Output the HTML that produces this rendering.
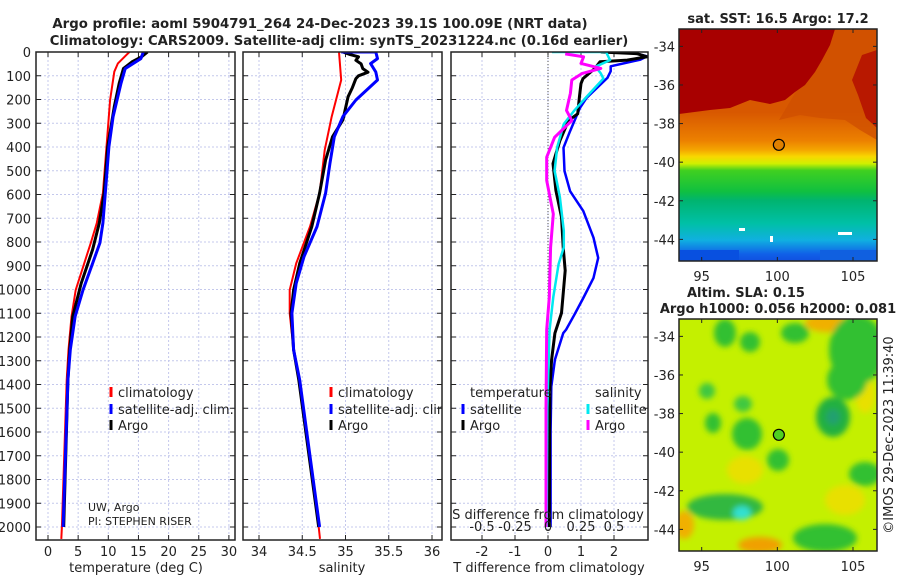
<!DOCTYPE html>
<html><head><meta charset="utf-8"><style>
body{margin:0;background:#fff;}
svg{display:block;font-family:"DejaVu Sans","Liberation Sans",sans-serif;}
</style></head><body>
<svg id="chart" width="900" height="580" viewBox="0 0 900 580">
<defs>
<clipPath id="c1"><rect x="36" y="52" width="199" height="488"/></clipPath>
<clipPath id="c2"><rect x="243" y="52" width="199" height="488"/></clipPath>
<clipPath id="c3"><rect x="451" y="52" width="197" height="488"/></clipPath>
<clipPath id="cm1"><rect x="679" y="29" width="198" height="232"/></clipPath>
<clipPath id="cm2"><rect x="679" y="319" width="198" height="232"/></clipPath>
<linearGradient id="sstg" x1="0" y1="29" x2="0" y2="261" gradientUnits="userSpaceOnUse">
<stop offset="0.36" stop-color="#d85800"/><stop offset="0.48" stop-color="#ec8000"/>
<stop offset="0.52" stop-color="#f4a400"/><stop offset="0.55" stop-color="#f8d800"/>
<stop offset="0.58" stop-color="#d0f000"/><stop offset="0.61" stop-color="#40d020"/>
<stop offset="0.70" stop-color="#10c040"/><stop offset="0.74" stop-color="#00b470"/>
<stop offset="0.84" stop-color="#00c0a8"/><stop offset="0.91" stop-color="#10b0e0"/>
<stop offset="0.97" stop-color="#1060e8"/><stop offset="1" stop-color="#1050e0"/>
</linearGradient>
<filter id="blur" x="-20%" y="-20%" width="140%" height="140%"><feGaussianBlur stdDeviation="3"/></filter>
</defs>
<g id="layer"></g>
</svg>
<script>
// Panel 1: temperature
const climTDepth=[0,48,83,202,399,594,720,804,890,1002,1114,1254,1381,2000,2050];
const climT=[13.5,11.6,11.0,10.3,9.7,9.1,8.1,7.1,6.0,4.6,3.9,3.4,3.1,2.3,2.2];
const argoTDepth=[0,20,42,70,132,230,399,594,720,832,974,1114,1254,1381,2000];
const argoT=[16.5,15.5,13.9,12.5,11.8,11.0,9.9,9.3,8.5,7.4,5.5,4.1,3.6,3.3,2.6];
const satTDepth=[0,28,70,132,272,399,594,720,804,890,1002,1114,1254,1381,2000];
const satT=[15.8,15.4,12.8,12.1,10.8,10.1,9.5,9.1,8.6,7.4,5.8,4.5,3.7,3.3,2.5];
// Panel 2: salinity
const climSDepth=[0,118,272,413,594,735,890,1002,1100,1254,1381,2000,2050];
const climS=[34.925,34.95,34.84,34.76,34.70,34.59,34.43,34.355,34.355,34.40,34.47,34.69,34.705];
const argoSDepth=[0,10,20,35,50,70,85,100,112,150,188,286,357,455,594,735,890,1002,1100,1254,1381,2000];
const argoS=[34.97,35.05,35.15,35.12,35.18,35.20,35.26,35.15,35.12,35.08,35.03,34.97,34.85,34.77,34.70,34.61,34.47,34.40,34.37,34.40,34.46,34.69];
const satSDepth=[0,0,28,49,84,118,202,272,357,470,594,735,862,974,1100,1254,1381,2000];
const satS=[34.95,35.35,35.37,35.29,35.35,35.37,35.12,34.97,34.87,34.82,34.77,34.67,34.52,34.43,34.38,34.40,34.47,34.70];
// Panel 3: differences
const argoTdDepth=[0,7,20,34,41,69,112,133,190,260,289,373,470,583,695,822,920,1032,1099,1184,1296,1409,1600,2000];
const argoTd=[1.6,2.7,3.0,2.4,1.58,1.42,1.06,1.0,0.95,0.9,0.62,0.36,0.15,0.24,0.41,0.46,0.52,0.45,0.41,0.21,0.11,0.06,0.05,0.04];
const satTdDepth=[0,18,32,60,81,109,193,235,333,403,501,586,670,782,867,951,1036,1106,1169,1184,1296,1409,1600,2000];
const satTd=[2.5,3.0,2.8,1.9,1.9,1.8,1.17,0.97,0.67,0.47,0.5,0.67,1.07,1.38,1.52,1.38,1.07,0.8,0.55,0.46,0.21,0.1,0.08,0.08];
const satSdDepth=[0,0,34,62,90,112,190,246,303,401,500,612,753,822,893,1032,1169,1500,2000];
const satSd=[0.03,0.44,0.47,0.36,0.40,0.42,0.29,0.20,0.12,0.07,0.05,0.09,0.12,0.12,0.08,0.04,0.012,-0.005,-0.01];
const argoSdDepth=[8,20,48,69,90,118,174,246,289,359,443,541,682,822,1032,1169,1500,2000];
const argoSd=[0.13,0.27,0.25,0.40,0.26,0.18,0.17,0.14,0.18,0.05,-0.01,-0.01,0.04,0.02,0.01,-0.01,-0.015,-0.015];
// Ticks
const depthTicks=[0,100,200,300,400,500,600,700,800,900,1000,1100,1200,1300,1400,1500,1600,1700,1800,1900,2000];
const tempTicks=[0,5,10,15,20,25,30];
const salTicks=[34,34.5,35,35.5,36];
const salTickLabels=["34","34.5","35","35.5","36"];
const tdTicks=[-2,-1,0,1,2];
const sdTicks=[-0.5,-0.25,0,0.25,0.5];
const sdTickLabels=["-0.5","-0.25","0","0.25","0.5"];
const latTicks=[-34,-36,-38,-40,-42,-44];
const lonTicks=[95,100,105];
const argoLon=[100.1], argoLat=[-39.1];

const NS="http://www.w3.org/2000/svg";
const layer=document.getElementById('layer');
function mk(tag,attrs,parent,text){const e=document.createElementNS(NS,tag);for(const k in attrs)e.setAttribute(k,attrs[k]);if(text!==undefined)e.textContent=text;(parent||layer).appendChild(e);return e;}

const yD=d=>52+d*0.2375;
const p1x=t=>48+t*6.03;
const p2x=s=>259+(s-34)*86.5;
const p3x=t=>548+t*33;
const p3s=s=>548+s*132;
const mapX=lon=>679+(lon-93.5)*15.13;
const mapY=(lat,top)=>top+(-33.1-lat)*19.3;

const panels=[{x0:36,x1:235,ticks:tempTicks.map(p1x)},{x0:243,x1:442,ticks:salTicks.map(p2x)},{x0:451,x1:648,ticks:tdTicks.map(p3x)}];
panels.forEach((p,i)=>{
  const g=mk('g',{});
  
  
  p.ticks.forEach(x=>{mk('line',{x1:x,x2:x,y1:52,y2:540,stroke:'#c4c8ec','stroke-width':1,'stroke-dasharray':'2,2'},g);});
  depthTicks.forEach(d=>{const y=yD(d);mk('line',{x1:p.x0,x2:p.x1,y1:y,y2:y,stroke:'#c4c8ec','stroke-width':1,'stroke-dasharray':'2,2'},g);
    mk('line',{x1:p.x0,x2:p.x0+5,y1:y,y2:y,stroke:'#222'},g);mk('line',{x1:p.x1-5,x2:p.x1,y1:y,y2:y,stroke:'#222'},g);});
  p.ticks.forEach(x=>{mk('line',{x1:x,x2:x,y1:52,y2:57,stroke:'#222'},g);mk('line',{x1:x,x2:x,y1:535,y2:540,stroke:'#222'},g);});
});
const zl=mk('line',{x1:p3x(0),x2:p3x(0),y1:52,y2:540,stroke:'#555','stroke-width':1,'stroke-dasharray':'1,2'});



function series(dep,val,fx,color,clip,name,w){
  const pts=dep.map((d,i)=>fx(val[i]).toFixed(1)+','+yD(d).toFixed(1)).join(' ');
  const pl=mk('polyline',{points:pts,fill:'none',stroke:color,'stroke-width':w||2.5,'stroke-linejoin':'round','clip-path':'url(#'+clip+')'});
  
  
}
series(climTDepth,climT,p1x,'#f00','c1','climatology-temperature-line',2);
series(argoTDepth,argoT,p1x,'#000','c1','argo-temperature-line',3);
series(satTDepth,satT,p1x,'#00f','c1','satellite-temperature-line',3);
series(climSDepth,climS,p2x,'#f00','c2','climatology-salinity-line',2);
series(argoSDepth,argoS,p2x,'#000','c2','argo-salinity-line',3);
series(satSDepth,satS,p2x,'#00f','c2','satellite-salinity-line',3);
series(satTdDepth,satTd,p3x,'#00f','c3','satellite-temp-diff-line',2.5);
series(argoTdDepth,argoTd,p3x,'#000','c3','argo-temp-diff-line',3);
series(satSdDepth,satSd,p3s,'#00e8f0','c3','satellite-sal-diff-line',2.5);
series(argoSdDepth,argoSd,p3s,'#f0f','c3','argo-sal-diff-line',3);

panels.forEach((p,i)=>{const r=mk('rect',{x:p.x0,y:52,width:p.x1-p.x0,height:488,fill:'none',stroke:'#222','stroke-width':1.5});
  
  });

function txt(x,y,s,opts,name){const t=mk('text',Object.assign({x:x,y:y,'font-size':13,fill:'#222'},opts||{}),null,s);
  
  return t;}
depthTicks.forEach(d=>txt(31,yD(d)+5,String(d),{'text-anchor':'end'},'y-tick-label'));
tempTicks.forEach(t=>txt(p1x(t),556,String(t),{'text-anchor':'middle'},'temp-tick-label'));
salTicks.forEach((s,i)=>txt(p2x(s),556,salTickLabels[i],{'text-anchor':'middle'},'sal-tick-label'));
tdTicks.forEach(t=>txt(p3x(t),556,String(t),{'text-anchor':'middle'},'tdiff-tick-label'));
sdTicks.forEach((s,i)=>txt(p3s(s),531,sdTickLabels[i],{'text-anchor':'middle'},'sdiff-tick-label'));
txt(136,572,'temperature (deg C)',{'text-anchor':'middle'},'x-axis-title-temperature');
txt(342,572,'salinity',{'text-anchor':'middle'},'x-axis-title-salinity');
txt(549,572,'T difference from climatology',{'text-anchor':'middle'},'x-axis-title-tdiff');
txt(548,519,'S difference from climatology',{'text-anchor':'middle'},'x-axis-title-sdiff');
txt(320,28,'Argo profile: aoml 5904791_264 24-Dec-2023 39.1S 100.09E (NRT data)',{'text-anchor':'middle','font-weight':'bold','font-size':13.3},'chart-title-line1');
txt(339,45,'Climatology: CARS2009. Satellite-adj clim: synTS_20231224.nc (0.16d earlier)',{'text-anchor':'middle','font-weight':'bold','font-size':13.2},'chart-title-line2');
txt(88,511,'UW, Argo',{'font-size':11},'credit-uw');
txt(88,525,'PI: STEPHEN RISER',{'font-size':11},'credit-pi');

function leg(x,y,color,label,clip,name){
  const g=mk('g',{'clip-path':'url(#'+clip+')'});
  
  
  mk('rect',{x:x-1.5,y:y-10,width:3,height:10,fill:color},g);
  mk('text',{x:x+7,y:y,'font-size':13,fill:'#222'},g,label);
}
leg(111,397,'#f00','climatology','c1','legend-climatology-t');
leg(111,414,'#00f','satellite-adj. clim.','c1','legend-satellite-t');
leg(111,430,'#000','Argo','c1','legend-argo-t');
leg(331,397,'#f00','climatology','c2','legend-climatology-s');
leg(331,414,'#00f','satellite-adj. clim.','c2','legend-satellite-s');
leg(331,430,'#000','Argo','c2','legend-argo-s');
txt(470,397,'temperature',{},'legend-title-temperature');
leg(463,414,'#00f','satellite','c3','legend-tdiff-satellite');
leg(463,430,'#000','Argo','c3','legend-tdiff-argo');
txt(595,397,'salinity',{},'legend-title-salinity');
leg(588,414,'#00e8f0','satellite','c3','legend-sdiff-satellite');
leg(588,430,'#f0f','Argo','c3','legend-sdiff-argo');

// SST map
const m1=mk('g',{'clip-path':'url(#cm1)'});


mk('rect',{x:679,y:29,width:198,height:232,fill:'url(#sstg)'},m1);
mk('polygon',{points:'833,29 877,29 877,140 860,130 845,120 820,118 800,115 779,120',fill:'#d05000',opacity:0.8},m1);
mk('polygon',{points:'679,29 835,29 830,45 822,60 815,72 805,85 795,92 785,100 770,104 750,100 730,108 710,110 679,114',fill:'#a80000'},m1);
mk('polygon',{points:'862,55 877,50 877,128 866,118 858,95 852,80',fill:'#b81800'},m1);
mk('rect',{x:679,y:250,width:60,height:11,fill:'#0850e0'},m1);
mk('rect',{x:820,y:250,width:57,height:11,fill:'#1060e0'},m1);
[[739,228,6,3],[838,232,14,3],[770,236,3,6]].forEach(r=>mk('rect',{x:r[0],y:r[1],width:r[2],height:r[3],fill:'#fff'},m1));
mk('rect',{x:679,y:29,width:198,height:232,fill:'none',stroke:'#222','stroke-width':1.5});
// SLA map
const m2=mk('g',{'clip-path':'url(#cm2)'});


mk('rect',{x:679,y:319,width:198,height:232,fill:'#c4f000'},m2);
const bl=mk('g',{filter:'url(#blur)'},m2);
[[827,323,22,9,'#f0b000'],[760,545,22,8,'#f0a000'],[684,525,10,14,'#f0b000'],[745,470,18,14,'#e8e000'],[865,395,10,18,'#e8e000'],[845,500,20,15,'#e8e000'],
 [725,333,11,14,'#30c030'],[750,342,10,10,'#30c030'],[795,333,14,10,'#30c030'],[857,350,28,35,'#30c030'],[847,380,20,20,'#30c030'],[707,391,8,8,'#40c840'],
 [743,404,9,8,'#40c840'],[713,423,8,10,'#30c030'],[747,434,15,16,'#30c030'],[778,460,11,11,'#30c030'],[833,417,17,20,'#20b040'],[833,417,7,8,'#20a070'],
 [865,474,16,12,'#30c030'],[725,507,38,13,'#30b840'],[742,513,9,7,'#30e0d0'],[825,538,32,14,'#30c030']].forEach(e=>mk('ellipse',{cx:e[0],cy:e[1],rx:e[2],ry:e[3],fill:e[4]},bl));
mk('rect',{x:679,y:319,width:198,height:232,fill:'none',stroke:'#222','stroke-width':1.5});
[[29,'#e08000'],[319,'#50d020']].forEach((m,i)=>{const c=mk('circle',{cx:mapX(argoLon[0]),cy:mapY(argoLat[0],m[0]),r:5.5,fill:m[1],stroke:'#000','stroke-width':1.2});
  
  });
[29,319].forEach(top=>{
  latTicks.forEach(l=>{const y=mapY(l,top);mk('line',{x1:679,x2:683,y1:y,y2:y,stroke:'#222'});mk('line',{x1:873,x2:877,y1:y,y2:y,stroke:'#222'});
    txt(675,y+5,String(l),{'text-anchor':'end'},'lat-tick-label');});
  lonTicks.forEach(l=>{const x=mapX(l);mk('line',{x1:x,x2:x,y1:top,y2:top+4,stroke:'#222'});mk('line',{x1:x,x2:x,y1:top+228,y2:top+232,stroke:'#222'});
    txt(x,top+252,String(l),{'text-anchor':'middle'},'lon-tick-label');});
});
txt(778,23,'sat. SST: 16.5 Argo: 17.2',{'text-anchor':'middle','font-weight':'bold'},'sst-map-title');
txt(687,297,'Altim. SLA: 0.15',{'font-weight':'bold'},'sla-map-title');
txt(778,313,'Argo h1000: 0.056 h2000: 0.081',{'text-anchor':'middle','font-weight':'bold'},'sla-map-subtitle');
txt(893,435,'©IMOS 29-Dec-2023 11:39:40',{'text-anchor':'middle',transform:'rotate(-90 893 435)'},'imos-timestamp');
</script>
</body></html>
